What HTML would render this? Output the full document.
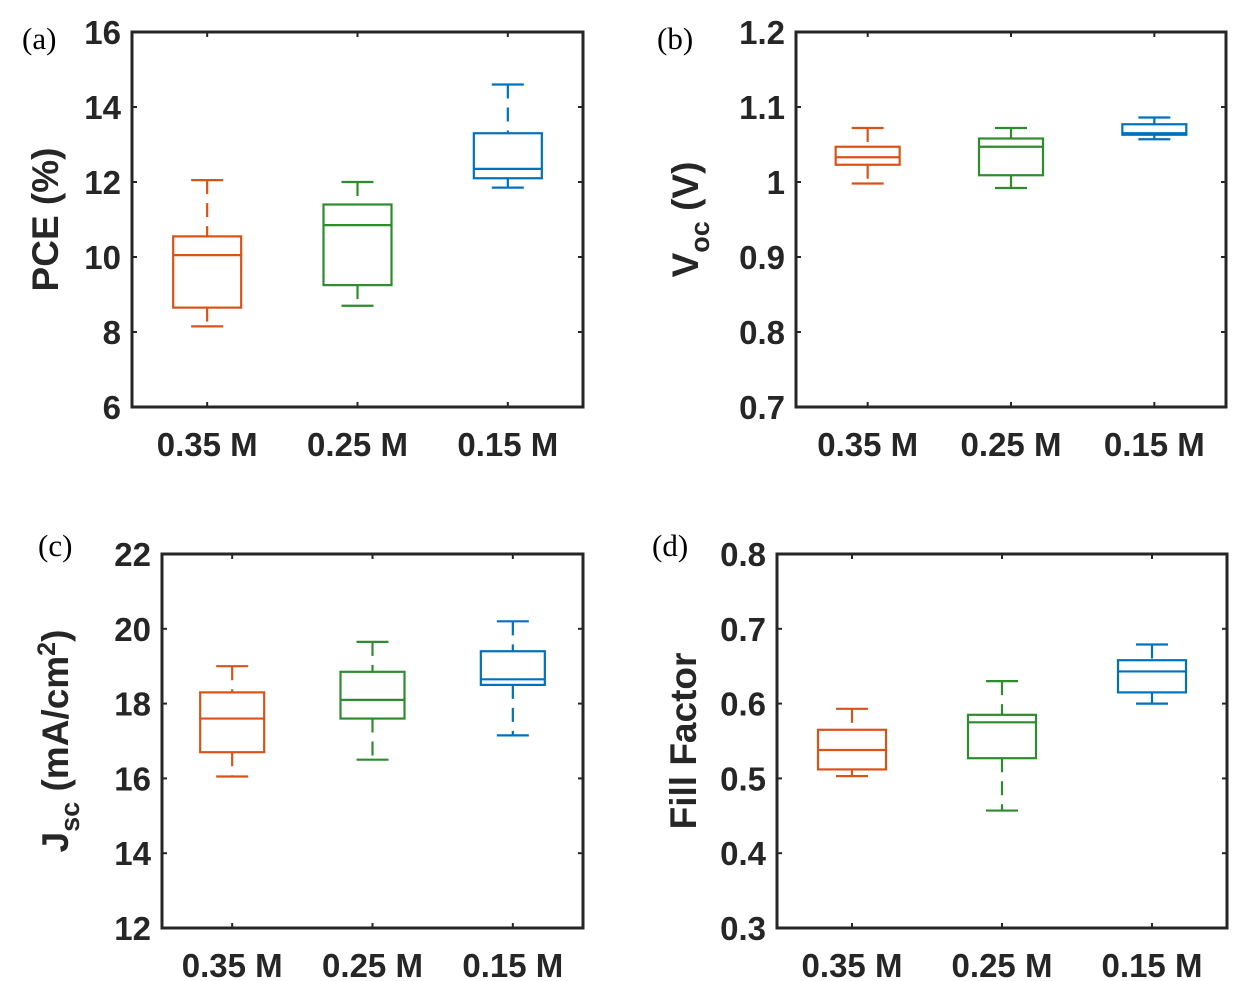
<!DOCTYPE html>
<html><head><meta charset="utf-8"><style>
html,body{margin:0;padding:0;background:#fff;}
svg{display:block;}
.tk{font-family:"Liberation Sans",Arial,sans-serif;font-weight:bold;font-size:33px;fill:#262626;}
.tt{font-family:"Liberation Sans",Arial,sans-serif;font-weight:bold;font-size:37px;fill:#262626;}
.pl{font-family:"Liberation Serif",serif;font-size:31px;fill:#000;}
</style></head><body>
<svg id="fig" width="1233" height="981" viewBox="0 0 1233 981" xmlns="http://www.w3.org/2000/svg"></svg>
<script>
const categories = ["0.35 M","0.25 M","0.15 M"];
const colors = ["#D95319","#2E8B2E","#0072BD"];
// [upper whisker, q3, median, q1, lower whisker]
const pceValues = [[12.05,10.55,10.05,8.65,8.15],[12.0,11.4,10.85,9.25,8.7],[14.6,13.3,12.35,12.1,11.85]];
const pceTicks = [6,8,10,12,14,16];
const vocValues = [[1.072,1.047,1.033,1.023,0.998],[1.072,1.058,1.047,1.009,0.992],[1.086,1.077,1.065,1.063,1.057]];
const vocTicks = [0.7,0.8,0.9,1,1.1,1.2];
const jscValues = [[19.0,18.3,17.6,16.7,16.05],[19.65,18.85,18.1,17.6,16.5],[20.2,19.4,18.65,18.5,17.15]];
const jscTicks = [12,14,16,18,20,22];
const ffValues = [[0.593,0.565,0.538,0.512,0.503],[0.630,0.585,0.575,0.527,0.457],[0.679,0.658,0.643,0.615,0.600]];
const ffTicks = [0.3,0.4,0.5,0.6,0.7,0.8];

const NS="http://www.w3.org/2000/svg";
const svg=document.getElementById('fig');
function mk(tag,attrs,parent){const e=document.createElementNS(NS,tag);for(const k in attrs)e.setAttribute(k,attrs[k]);(parent||svg).appendChild(e);return e;}

function panel(p){
  const g=mk('g',{});
  
  
  const ymin=p.ticks[0],ymax=p.ticks[p.ticks.length-1];
  const ys=v=>p.b-(v-ymin)/(ymax-ymin)*(p.b-p.t);
  const step=(p.r-p.l)/3;
  const xs=i=>p.l+step*(i+0.5);
  const frame=mk('rect',{x:p.l,y:p.t,width:p.r-p.l,height:p.b-p.t,fill:'none',stroke:'#262626','stroke-width':3},g);
  
  
  p.ticks.forEach((v,i)=>{
    const y=ys(v);
    mk('line',{x1:p.l,x2:p.l+5,y1:y,y2:y,stroke:'#262626','stroke-width':2},g);
    mk('line',{x1:p.r,x2:p.r-5,y1:y,y2:y,stroke:'#262626','stroke-width':2},g);
    const t=mk('text',{x:p.l-11,y:y+12,'text-anchor':'end',class:'tk'},g);
    t.textContent=String(v);
    
    
  });
  categories.forEach((c,i)=>{
    const x=xs(i);
    mk('line',{x1:x,x2:x,y1:p.b,y2:p.b-5,stroke:'#262626','stroke-width':2},g);
    mk('line',{x1:x,x2:x,y1:p.t,y2:p.t+5,stroke:'#262626','stroke-width':2},g);
    const t=mk('text',{x:x,y:p.b+49,'text-anchor':'middle',class:'tk'},g);
    t.textContent=c;
    
    
    const v=p.values[i],col=colors[i];
    const bg=mk('g',{stroke:col,'stroke-width':2.2,fill:'none'},g);
    
    
    const hw=p.hw,cw=16;
    mk('line',{x1:x,x2:x,y1:ys(v[0]),y2:ys(v[1]),'stroke-dasharray':'14,9'},bg);
    mk('line',{x1:x,x2:x,y1:ys(v[3]),y2:ys(v[4]),'stroke-dasharray':'14,9'},bg);
    mk('line',{x1:x-cw,x2:x+cw,y1:ys(v[0]),y2:ys(v[0])},bg);
    mk('line',{x1:x-cw,x2:x+cw,y1:ys(v[4]),y2:ys(v[4])},bg);
    mk('rect',{x:x-hw,y:ys(v[1]),width:2*hw,height:ys(v[3])-ys(v[1])},bg);
    mk('line',{x1:x-hw,x2:x+hw,y1:ys(v[2]),y2:ys(v[2])},bg);
  });
  const lab=mk('text',{x:p.lx,y:p.ly,class:'pl'},g);
  lab.textContent=p.letter;
  
  
  const tt=mk('text',{x:0,y:0,'text-anchor':'middle',class:'tt',transform:`translate(${p.tx},${(p.t+p.b)/2}) rotate(-90)`},g);
  tt.innerHTML=p.title;
  
  
}
panel({id:'a',l:132,r:583,t:32,b:407,hw:34,ticks:pceTicks,values:pceValues,letter:'(a)',lx:22,ly:49,tx:58,title:'PCE (%)'});
panel({id:'b',l:796,r:1226,t:32,b:407,hw:32,ticks:vocTicks,values:vocValues,letter:'(b)',lx:657,ly:49,tx:698,title:'V<tspan dy="11" font-size="27">oc</tspan><tspan dy="-11"> (V)</tspan>'});
panel({id:'c',l:162,r:583,t:554,b:928,hw:32,ticks:jscTicks,values:jscValues,letter:'(c)',lx:38,ly:556,tx:68,title:'J<tspan dy="11" font-size="27">sc</tspan><tspan dy="-11"> (mA/cm</tspan><tspan dy="-13" font-size="25">2</tspan><tspan dy="13">)</tspan>'});
panel({id:'d',l:777,r:1227,t:554,b:928,hw:34,ticks:ffTicks,values:ffValues,letter:'(d)',lx:652,ly:556,tx:696,title:'Fill Factor'});
</script>
</body></html>
